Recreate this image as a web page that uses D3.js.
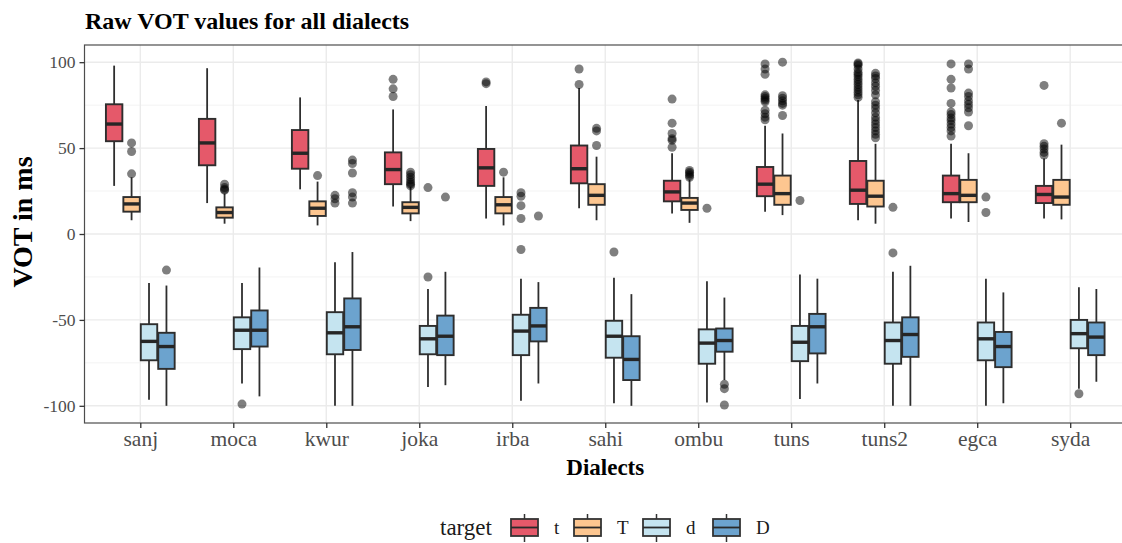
<!DOCTYPE html>
<html>
<head>
<meta charset="utf-8">
<script src="https://cdn.jsdelivr.net/npm/d3@7"></script>
<style>
  body { margin: 0; background: #fff; }
  svg { display: block; font-family: "Liberation Serif", "Times New Roman", serif; }
</style>
</head>
<body>
<svg id="chart" width="1122" height="543"></svg>
<script>
const dialects = ["sanj", "moca", "kwur", "joka", "irba", "sahi", "ombu", "tuns", "tuns2", "egca", "syda"];
const targets = ["t", "T", "d", "D"];
const yTicks = [-100, -50, 0, 50, 100];

// five-number summaries, one value per dialect
const t_low = [28, 18, 26, 16, 9, 15, 12, 13, 8, 9, 9];
const t_q1 = [54, 40, 38, 29, 28, 29.5, 19, 22, 17.5, 18.5, 18];
const t_med = [64, 53, 47, 37.5, 38.5, 38, 24.5, 29, 25.5, 23.5, 23];
const t_q3 = [75.5, 67, 60.5, 47.5, 49.5, 51.5, 31, 39, 42.5, 34, 28];
const t_high = [98, 96.5, 79.5, 72.5, 74.5, 85, 47, 63, 78, 52.5, 44];

const T_low = [8, 6, 5, 7.5, 5, 8, 6.5, 11, 6, 7, 8.5];
const T_q1 = [13, 9.5, 10.5, 12, 12, 17, 14, 17, 16, 18.5, 17];
const T_med = [17.5, 12.5, 15, 15.5, 17, 22.5, 18, 23.5, 22, 22.5, 21.5];
const T_q3 = [21.5, 15.5, 19, 18.5, 21.5, 29, 21, 34, 31, 31.5, 31.5];
const T_high = [33, 23.5, 30.5, 27.5, 33, 45, 31.5, 58.5, 52.5, 47, 52];

const d_low = [-96.5, -87, -100, -89, -97, -98.5, -98, -96, -100, -100, -90];
const d_q1 = [-73.5, -67, -70, -70, -70.5, -72, -75.5, -74, -75.5, -73.5, -66.5];
const d_med = [-62.5, -56, -57.5, -61, -56.5, -59.5, -63.5, -63, -62, -61, -58];
const d_q3 = [-52.5, -48.5, -45.5, -53.5, -47, -50.5, -55.5, -53.5, -51.5, -51.5, -50];
const d_high = [-28.5, -28.5, -16.5, -32, -26, -25.5, -27.5, -23.5, -22, -26, -31];

const D_low = [-100, -94.5, -100, -88, -87, -100, -85, -87, -100, -98.5, -86];
const D_q1 = [-78.5, -65.5, -67.5, -70.5, -62.5, -85, -68.5, -69.5, -71.5, -77.5, -70.5];
const D_med = [-65.5, -56, -54, -59.5, -53.5, -73, -62, -54, -58.5, -65.5, -60];
const D_q3 = [-57.5, -44.5, -37.5, -47.5, -43, -59.5, -55, -46.5, -48.5, -57, -51.5];
const D_high = [-30, -19.5, -10.5, -22, -28, -35, -37, -26, -18.5, -34, -32];

// outliers per dialect
const t_out = [[], [], [], [90, 84.5, 80], [88.5, 87.5], [96, 87],
  [78.5, 64.5, 58.5, 55.5, 54.5, 50.5],
  [99, 96, 93, 81, 80, 79, 78, 77, 72, 70, 68, 66.5],
  [99.5, 99, 98, 96, 94, 93, 91.5, 90, 88.5, 87, 85.5, 84, 82.5, 81, 79.5],
  [99, 90, 85, 76, 71, 69.5, 67.5, 66, 64, 62, 60, 57],
  [86.5, 52.5, 51, 49.5, 47.5, 46]];
const T_out = [[53, 48, 35], [29, 27, 26, 25.5], [34], [36, 34.5, 33, 31.5, 30, 29, 28], [36],
  [61.5, 60, 51.5], [37, 36, 35, 34, 33],
  [100, 80.5, 79, 77.5, 76, 75, 69],
  [93.5, 92, 90.5, 88, 86, 83.5, 81, 77, 75, 73, 70.5, 68, 66, 64, 62, 60, 58, 56],
  [99, 96, 82, 80, 77.5, 75.5, 73.5, 71, 63],
  [64.5]];
const d_out = [[], [-99], [22.5, 20.5, 18], [27, -25], [24, 22, 16.5, 9, -9], [-10.5],
  [15], [19.5], [15.5, -11], [21.5, 12.5], [-93]];
const D_out = [[-21], [], [43, 41, 35.5, 24, 21.5, 18], [21.5], [10.5], [], [-87.5, -90, -99.5],
  [], [], [], []];

const fills = {t: "#E5596A", T: "#FDC690", d: "#C5E4F0", D: "#6CA3CE"};

const stats = {
  t: [t_low, t_q1, t_med, t_q3, t_high, t_out],
  T: [T_low, T_q1, T_med, T_q3, T_high, T_out],
  d: [d_low, d_q1, d_med, d_q3, d_high, d_out],
  D: [D_low, D_q1, D_med, D_q3, D_high, D_out]
};

const boxes = [];
targets.forEach(tg => {
  const [lo, q1, md, q3, hi, out] = stats[tg];
  dialects.forEach((dl, i) => {
    boxes.push({dialect: dl, target: tg, lo: lo[i], q1: q1[i], med: md[i], q3: q3[i], hi: hi[i], out: out[i]});
  });
});

const svg = d3.select("#chart");
const pLeft = 84.5, pRight = 1126, pTop = 45, pBottom = 423;

const x = d3.scalePoint().domain(dialects).range([pLeft, pRight]).padding(0.6);
const xInner = d3.scaleBand().domain(targets).range([-0.375 * x.step(), 0.375 * x.step()]);
const y = d3.scaleLinear().domain([-110, 110]).range([pBottom, pTop]);

// grid
const grid = svg.append("g");
grid.selectAll(".minor").data([-75, -25, 25, 75]).enter().append("line")
  .attr("x1", pLeft).attr("x2", pRight)
  .attr("y1", d => y(d)).attr("y2", d => y(d))
  .attr("stroke", "#F3F3F3").attr("stroke-width", 1);
grid.selectAll(".major").data(yTicks).enter().append("line")
  .attr("x1", pLeft).attr("x2", pRight)
  .attr("y1", d => y(d)).attr("y2", d => y(d))
  .attr("stroke", "#EBEBEB").attr("stroke-width", 1.4);
grid.selectAll(".vert").data(dialects).enter().append("line")
  .attr("x1", d => x(d)).attr("x2", d => x(d))
  .attr("y1", pTop).attr("y2", pBottom)
  .attr("stroke", "#EBEBEB").attr("stroke-width", 1.4);

// boxes
const g = svg.append("g");
const bw = xInner.bandwidth();
const cx = b => x(b.dialect) + xInner(b.target) + bw / 2;

g.selectAll(".whisker").data(boxes).enter().append("line")
  .attr("x1", cx).attr("x2", cx)
  .attr("y1", b => y(b.hi)).attr("y2", b => y(b.lo))
  .attr("stroke", "#2e2e2e").attr("stroke-width", 1.8);

g.selectAll(".box").data(boxes).enter().append("rect")
  .attr("x", b => cx(b) - bw / 2 + 0.5)
  .attr("width", bw - 1)
  .attr("y", b => y(b.q3))
  .attr("height", b => y(b.q1) - y(b.q3))
  .attr("fill", b => fills[b.target])
  .attr("stroke", "#2e2e2e").attr("stroke-width", 1.9);

g.selectAll(".median").data(boxes).enter().append("line")
  .attr("x1", b => cx(b) - bw / 2 + 0.5).attr("x2", b => cx(b) + bw / 2 - 0.5)
  .attr("y1", b => y(b.med)).attr("y2", b => y(b.med))
  .attr("stroke", "#262626").attr("stroke-width", 3.4);

const outliers = boxes.flatMap(b => b.out.map(v => ({b, v})));
g.selectAll(".outlier").data(outliers).enter().append("circle")
  .attr("cx", o => cx(o.b))
  .attr("cy", o => y(o.v))
  .attr("r", 4.5)
  .attr("fill", "#000").attr("fill-opacity", 0.5);

// panel border
svg.append("rect")
  .attr("x", pLeft).attr("y", pTop)
  .attr("width", pRight - pLeft).attr("height", pBottom - pTop)
  .attr("fill", "none").attr("stroke", "#4d4d4d").attr("stroke-width", 1.2);

// axes
const yAxis = svg.append("g").attr("transform", `translate(${pLeft},0)`)
  .call(d3.axisLeft(y).tickValues(yTicks).tickSize(5).tickPadding(4).tickFormat(d => String(d)));
yAxis.select(".domain").remove();
yAxis.selectAll("line").attr("stroke", "#333").attr("stroke-width", 1.3);
yAxis.selectAll("text").attr("fill", "#4D4D4D").style("font-size", "17.5px")
  .style("font-family", "Liberation Serif");

const xAxis = svg.append("g").attr("transform", `translate(0,${pBottom})`)
  .call(d3.axisBottom(x).tickSize(5).tickPadding(3));
xAxis.select(".domain").remove();
xAxis.selectAll("line").attr("stroke", "#333").attr("stroke-width", 1.3);
xAxis.selectAll("text").attr("fill", "#4D4D4D").style("font-size", "21.5px")
  .style("font-family", "Liberation Serif");

// titles
svg.append("text").attr("x", 85).attr("y", 29)
  .style("font-size", "24px").style("font-weight", "bold")
  .text("Raw VOT values for all dialects");

svg.append("text").attr("x", (pLeft + pRight) / 2).attr("y", 475)
  .attr("text-anchor", "middle")
  .style("font-size", "23px").style("font-weight", "bold")
  .text("Dialects");

svg.append("text")
  .attr("transform", `translate(32,222) rotate(-90)`)
  .attr("text-anchor", "middle")
  .style("font-size", "28px").style("font-weight", "bold")
  .text("VOT in ms");

// legend
const legend = svg.append("g");
legend.append("text").attr("x", 440).attr("y", 535)
  .style("font-size", "23px").attr("fill", "#1a1a1a").text("target");
const keyX = [511, 574, 643, 713];
const keys = legend.selectAll(".key").data(targets).enter().append("g")
  .attr("transform", (d, i) => `translate(${keyX[i]},0)`);
keys.append("line").attr("x1", 13.5).attr("x2", 13.5).attr("y1", 514).attr("y2", 542)
  .attr("stroke", "#333").attr("stroke-width", 1.5);
keys.append("rect").attr("x", 0).attr("y", 519).attr("width", 27).attr("height", 17)
  .attr("fill", d => fills[d]).attr("stroke", "#333").attr("stroke-width", 1.8);
keys.append("line").attr("x1", 0).attr("x2", 27).attr("y1", 527.5).attr("y2", 527.5)
  .attr("stroke", "#2a2a2a").attr("stroke-width", 1.8);
keys.append("text").attr("x", 43).attr("y", 534)
  .style("font-size", "19px").attr("fill", "#1a1a1a").text(d => d);
</script>
</body>
</html>
